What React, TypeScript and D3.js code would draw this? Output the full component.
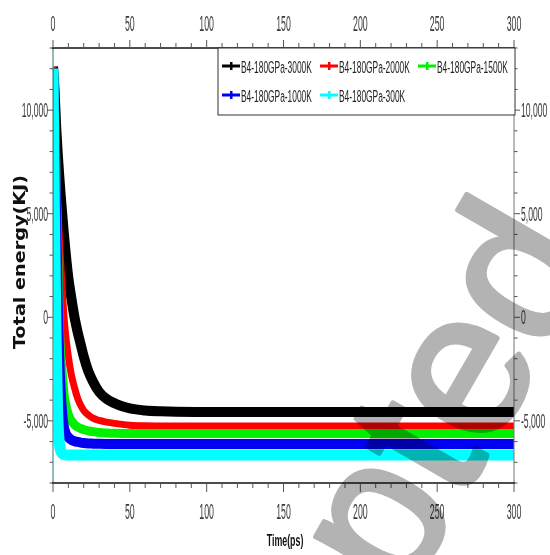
import React from "react";
import * as d3 from "d3";

// Simulation time (ps) shared by every series
const times = [0, 1, 2, 3, 4, 5, 6, 7, 8, 10, 12, 14, 16, 18, 20, 23, 26, 30, 35, 40, 45, 50, 60, 70, 80, 100, 150, 200, 250, 300];

// Total energy (KJ) per temperature
const e3000K = [12100, 11000, 9300, 8000, 6900, 5900, 5000, 4100, 3300, 1900, 900, 0, -700, -1300, -1900, -2600, -3100, -3600, -3950, -4150, -4300, -4400, -4500, -4540, -4560, -4570, -4575, -4570, -4572, -4572];
const e2000K = [12100, 10000, 7900, 5600, 4000, 2600, 1300, 200, -700, -1900, -2800, -3400, -3900, -4250, -4500, -4720, -4870, -4980, -5060, -5120, -5170, -5210, -5240, -5248, -5250, -5250, -5250, -5250, -5250, -5250];
const e1500K = [12000, 10000, 6800, 3400, -200, -1800, -2700, -3600, -4100, -4700, -5000, -5180, -5300, -5370, -5420, -5480, -5520, -5560, -5585, -5600, -5610, -5610, -5610, -5610, -5610, -5610, -5610, -5610, -5610, -5610];
const e1000K = [12000, 9500, 5000, 1000, -1800, -3600, -4700, -5250, -5550, -5800, -5920, -5980, -6020, -6050, -6070, -6090, -6100, -6110, -6117, -6117, -6117, -6117, -6117, -6117, -6117, -6117, -6117, -6117, -6117, -6117];
const e300K = [12000, 4500, -1000, -4500, -6000, -6450, -6580, -6620, -6640, -6648, -6648, -6648, -6648, -6648, -6648, -6648, -6648, -6648, -6648, -6648, -6648, -6648, -6648, -6648, -6648, -6648, -6648, -6648, -6648, -6648];

const seriesNames = ["B4-180GPa-3000K", "B4-180GPa-2000K", "B4-180GPa-1500K", "B4-180GPa-1000K", "B4-180GPa-300K"];
const seriesValues = [e3000K, e2000K, e1500K, e1000K, e300K];
const seriesColors = ["#000000", "#ff0000", "#00f000", "#0000f0", "#00ffff"];
const seriesWidths = [10, 7, 9, 10, 11];

const xMajorTicks = [0, 50, 100, 150, 200, 250, 300];
const xTickLabels = ["0", "50", "100", "150", "200", "250", "300"];
const yMajorTicks = [-5000, 0, 5000, 10000];
const yTickLabels = ["-5,000", "0", "5,000", "10,000"];

const W = 550;
const H = 555;
const left = 53;
const right = 514;
const top = 48;
const bottom = 483;

const x = d3.scaleLinear().domain([0, 300]).range([left, right]);
const y = d3.scaleLinear().domain([-8000, 13000]).range([bottom, top]);

const xMinor = d3.range(0, 301, 10);
const yMinor = d3.range(-8000, 13001, 1000);

const tickFont = "'Liberation Sans', Arial, sans-serif";

function Narrow(props: {
  x: number;
  y: number;
  sx: number;
  size: number;
  anchor?: string;
  weight?: string | number;
  fill?: string;
  family?: string;
  children: React.ReactNode;
}) {
  const { x, y, sx, size, anchor = "start", weight = "normal", fill = "#3a3a3a", family = tickFont, children } = props;
  return (
    <text
      transform={`translate(${x},${y}) scale(${sx},1)`}
      textAnchor={anchor}
      fontFamily={family}
      fontSize={size}
      fontWeight={weight}
      fill={fill}
    >
      {children}
    </text>
  );
}

export default function App() {
  const line = d3
    .line<number>()
    .x((_, i) => x(times[i]))
    .y((d) => y(d))
    .curve(d3.curveMonotoneX);

  const legendRows = [
    { i: 0, lx: 222, ty: 73 },
    { i: 1, lx: 320, ty: 73 },
    { i: 2, lx: 418, ty: 73 },
    { i: 3, lx: 222, ty: 102 },
    { i: 4, lx: 320, ty: 102 },
  ];

  return (
    <svg
      width={W}
      height={H}
      viewBox={`0 0 ${W} ${H}`}
      style={{ position: "absolute", left: 0, top: 0, background: "#fff" }}
    >
      <defs>
        <clipPath id="plotClip">
          <rect x={left + 0.5} y={top} width={right - left} height={bottom - top} />
        </clipPath>
      </defs>
      <rect x={0} y={0} width={W} height={H} fill="#fff" />

      {/* energy curves */}
      <g clipPath="url(#plotClip)">
        {seriesValues.map((vals, i) => (
          <path
            key={seriesNames[i]}
            d={line(vals) || ""}
            fill="none"
            stroke={seriesColors[i]}
            strokeWidth={seriesWidths[i]}
            strokeLinejoin="round"
          />
        ))}
      </g>

      {/* left axis */}
      <line x1={left} x2={left} y1={top} y2={bottom} stroke="#4f8a8b" strokeWidth={1.2} />
      {yMinor.map((v) => (
        <line key={"yl" + v} x1={left} x2={left - (yMajorTicks.includes(v) ? 6 : 3.5)} y1={y(v)} y2={y(v)} stroke="#555" strokeWidth={1} />
      ))}
      {yMajorTicks.map((v, i) => (
        <Narrow key={"ylab" + v} x={left - 5} y={y(v) + 7} sx={0.42} size={20.5} anchor="end">
          {yTickLabels[i]}
        </Narrow>
      ))}

      {/* right axis */}
      <line x1={right} x2={right} y1={top} y2={bottom} stroke="#777" strokeWidth={1} />
      {yMinor.map((v) => (
        <line key={"yr" + v} x1={right} x2={right + (yMajorTicks.includes(v) ? 6 : 3.5)} y1={y(v)} y2={y(v)} stroke="#555" strokeWidth={1} />
      ))}
      {yMajorTicks.map((v, i) => (
        <Narrow key={"yrlab" + v} x={right + 7} y={y(v) + 7} sx={0.42} size={20.5}>
          {yTickLabels[i]}
        </Narrow>
      ))}

      {/* bottom axis */}
      <line x1={left - 1} x2={right + 1} y1={bottom} y2={bottom} stroke="#111" strokeWidth={1.5} />
      {xMinor.map((t) => (
        <line key={"xb" + t} x1={x(t)} x2={x(t)} y1={bottom} y2={bottom + (xMajorTicks.includes(t) ? 9 : 5)} stroke="#555" strokeWidth={1} />
      ))}
      {xMajorTicks.map((t, i) => (
        <Narrow key={"xblab" + t} x={x(t)} y={519} sx={0.4} size={22} anchor="middle">
          {xTickLabels[i]}
        </Narrow>
      ))}

      {/* top axis */}
      <line x1={left - 1} x2={right + 1} y1={top} y2={top} stroke="#111" strokeWidth={1.5} />
      {xMinor.map((t) => (
        <line key={"xt" + t} x1={x(t)} x2={x(t)} y1={top} y2={top - (xMajorTicks.includes(t) ? 8 : 5)} stroke="#555" strokeWidth={1} />
      ))}
      {xMajorTicks.map((t, i) => (
        <Narrow key={"xtlab" + t} x={x(t)} y={31} sx={0.4} size={22} anchor="middle">
          {xTickLabels[i]}
        </Narrow>
      ))}

      {/* axis titles */}
      <Narrow x={285} y={546} sx={0.52} size={17} anchor="middle" weight="bold" fill="#111">
        Time(ps)
      </Narrow>
      <text
        transform={`translate(25,262) rotate(-90)`}
        textAnchor="middle"
        fontFamily="'DejaVu Sans', Verdana, sans-serif"
        fontWeight="bold"
        fontSize={15}
        fill="#111"
        textLength={174}
        lengthAdjust="spacingAndGlyphs"
      >
        Total energy(KJ)
      </text>

      {/* legend */}
      <rect x={218} y={top} width={right + 1 - 218} height={115 - top} fill="#fff" stroke="#333" strokeWidth={1} />
      {legendRows.map(({ i, lx, ty }) => (
        <g key={"leg" + i}>
          <line x1={lx} x2={lx + 18} y1={ty - 7} y2={ty - 7} stroke={seriesColors[i]} strokeWidth={3} />
          <rect x={lx + 8} y={ty - 11} width={2.5} height={8} fill={seriesColors[i]} />
          <Narrow x={lx + 19} y={ty} sx={0.494} size={17} fill="#222">
            {seriesNames[i]}
          </Narrow>
        </g>
      ))}

      {/* watermark */}
      <text
        transform="translate(175,997) rotate(-60)"
        fontFamily="'Liberation Sans', Arial, sans-serif"
        fontSize={205}
        fill="#b3b3b3"
        stroke="#b3b3b3"
        strokeWidth={5}
        strokeLinejoin="round"
        style={{ mixBlendMode: "multiply" }}
      >
        Accepted
      </text>
    </svg>
  );
}
